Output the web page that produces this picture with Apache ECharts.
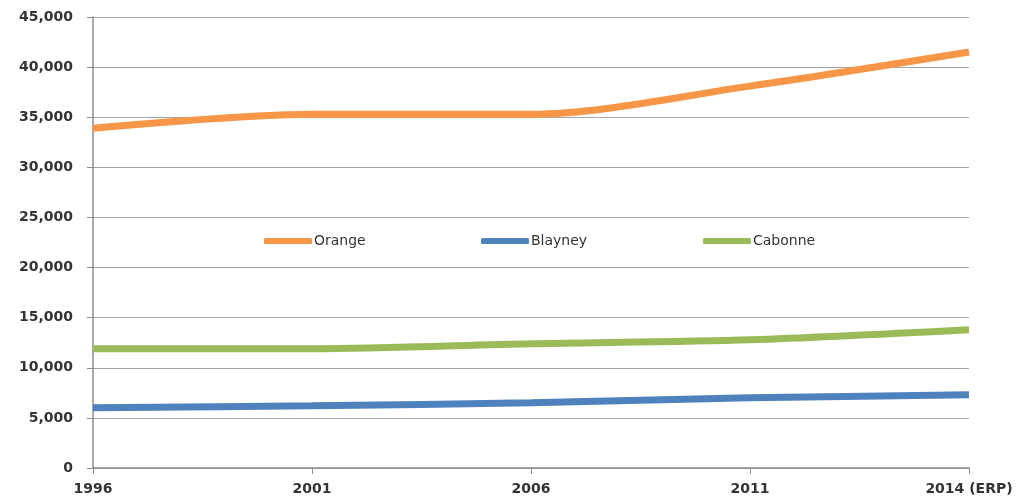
<!DOCTYPE html>
<html>
<head>
<meta charset="utf-8">
<title>Population</title>
<script src="https://cdn.jsdelivr.net/npm/echarts@6/dist/echarts.min.js"></script>
</head>
<body style="margin:0;background:#fff;">
<div id="main" style="width:1020px;height:501px;"></div>
<script>
var years = ['1996', '2001', '2006', '2011', '2014 (ERP)'];
var orange = [33900, 35300, 35300, 38100, 41500];
var blayney = [6000, 6200, 6500, 7000, 7300];
var cabonne = [11900, 11900, 12400, 12800, 13800];

var colors = ['#F79646', '#4F81BD', '#9BBB59'];
var font = 'DejaVu Sans';
var txt = '#333';

function mkLegend(name, left) {
    return {
        data: [name],
        left: left,
        top: 229,
        icon: 'roundRect',
        itemWidth: 48,
        itemHeight: 6,
        itemGap: 0,
        textStyle: { fontFamily: font, fontSize: 14, color: txt, padding: [0, 0, 0, -3] }
    };
}

function mkSeries(name, data, color) {
    return {
        name: name,
        type: 'line',
        data: data,
        smooth: 0.3,
        symbol: 'none',
        lineStyle: { width: 7, color: color },
        itemStyle: { color: color }
    };
}

var chart = echarts.init(document.getElementById('main'));
chart.setOption({
    animation: false,
    color: colors,
    grid: { left: 93, right: 51, top: 17, bottom: 33 },
    legend: [
        mkLegend('Orange', 259),
        mkLegend('Blayney', 476),
        mkLegend('Cabonne', 698)
    ],
    xAxis: {
        type: 'category',
        data: years,
        boundaryGap: false,
        axisLine: { lineStyle: { color: '#8c8c8c', width: 1.5 } },
        axisTick: { length: 6, lineStyle: { color: '#8c8c8c' } },
        axisLabel: { fontFamily: font, fontSize: 14, color: txt, margin: 14, fontWeight: 'bold' },
        splitLine: { show: false }
    },
    yAxis: {
        type: 'value',
        min: 0,
        max: 45000,
        interval: 5000,
        axisLine: { show: true, lineStyle: { color: '#8c8c8c', width: 1.5 } },
        axisTick: { show: true, length: 6, lineStyle: { color: '#8c8c8c' } },
        axisLabel: {
            fontFamily: font, fontSize: 14, color: txt, margin: 20, fontWeight: 'bold',
            formatter: function (v) { return v.toLocaleString('en-US'); }
        },
        splitLine: { lineStyle: { color: '#a6a6a6', width: 1 } }
    },
    series: [
        mkSeries('Orange', orange, colors[0]),
        mkSeries('Blayney', blayney, colors[1]),
        mkSeries('Cabonne', cabonne, colors[2])
    ]
});
</script>
</body>
</html>
